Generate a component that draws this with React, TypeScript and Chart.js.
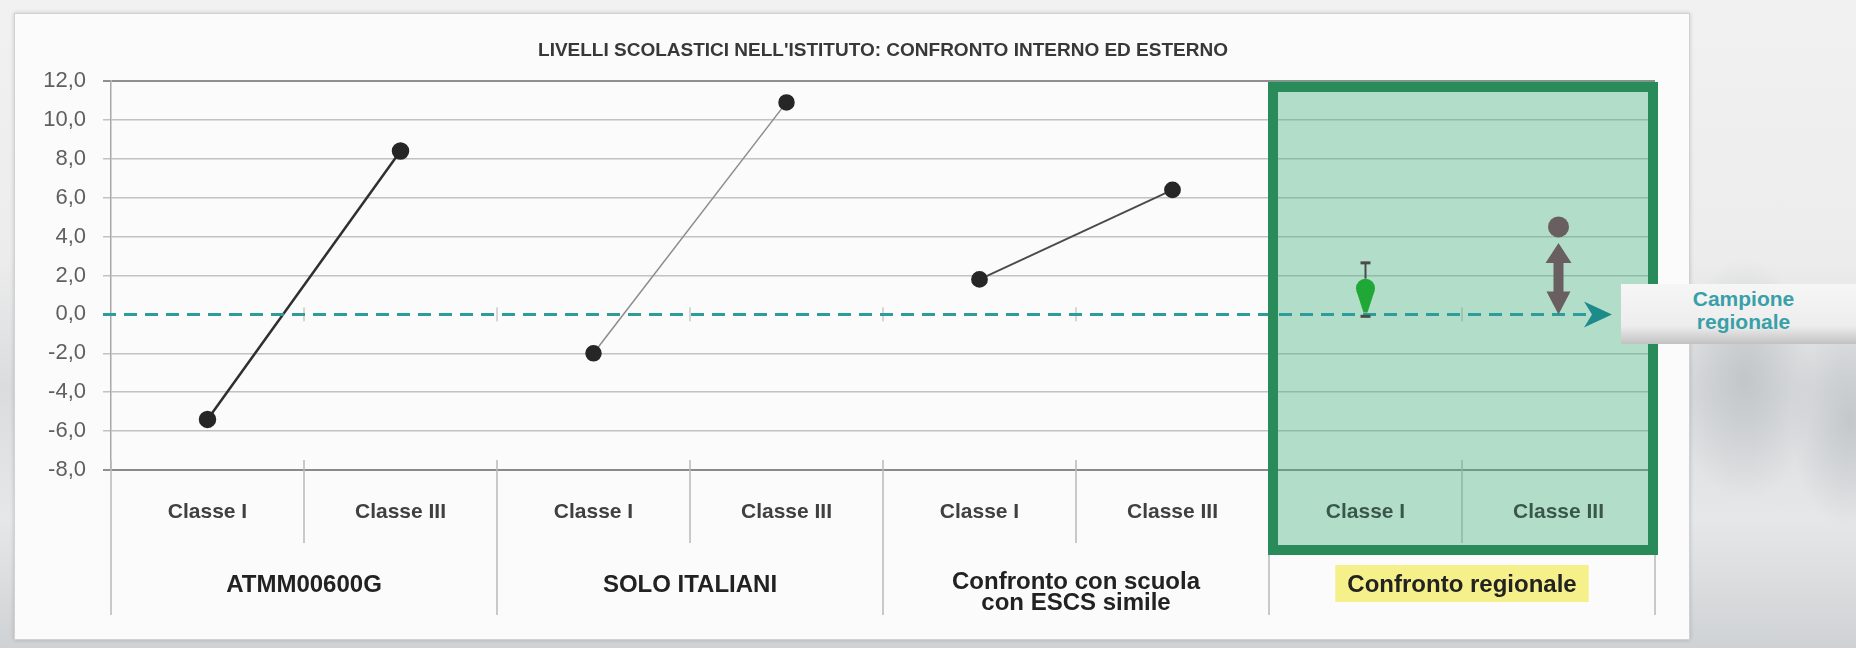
import React, { useEffect, useRef } from "react";
import { Chart, registerables } from "chart.js";

Chart.register(...registerables);

const FONT = "'Liberation Sans', Arial, Helvetica, sans-serif";

const TITLE = "LIVELLI SCOLASTICI NELL'ISTITUTO: CONFRONTO INTERNO ED ESTERNO";
const categories = ["Classe I", "Classe III", "Classe I", "Classe III", "Classe I", "Classe III", "Classe I", "Classe III"];
const groupLabels: (string | string[])[] = ["ATMM00600G", "SOLO ITALIANI", ["Confronto con scuola", "con ESCS simile"], "Confronto regionale"];
const groupSizes = [2, 2, 2, 2];
const highlightGroup = 3;
const yTickValues = [12, 10, 8, 6, 4, 2, 0, -2, -4, -6, -8];

const atmmValues = [-5.4, 8.4, null, null, null, null, null, null];
const soloValues = [null, null, -2.0, 10.9, null, null, null, null];
const escsValues = [null, null, null, null, 1.8, 6.4, null, null];
const regionalValues = [null, null, null, null, null, null, 1.35, 4.5];
const regionalLow = [null, null, null, null, null, null, -0.1, null];
const regionalHigh = [null, null, null, null, null, null, 2.65, null];
const regionalColors = ["", "", "", "", "", "", "#1fa835", "#6a5f60"];
const regionalShapes = ["", "", "", "", "", "", "drop", "arrow"];
const baselineValue = 0;
const baselineLabel = ["Campione", "regionale"];

function boundaryPx(x: any, i: number) {
  const n = categories.length;
  if (i <= 0) return x.left;
  if (i >= n) return x.right;
  return (x.getPixelForTick(i - 1) + x.getPixelForTick(i)) / 2;
}

function groupRanges() {
  const out: { start: number; end: number }[] = [];
  let s = 0;
  for (const g of groupSizes) {
    out.push({ start: s, end: s + g });
    s += g;
  }
  return out;
}

function inHighlight(i: number) {
  const r = groupRanges()[highlightGroup];
  return i >= r.start && i < r.end;
}

const overlayPlugin = {
  id: "overlay",
  beforeDatasetsDraw(chart: any) {
    const { ctx, chartArea: ca, scales } = chart;
    const x = scales.x;
    const y = scales.y;
    const ranges = groupRanges();
    const groupBounds = new Set<number>();
    ranges.forEach((r) => {
      groupBounds.add(r.start);
      groupBounds.add(r.end);
    });
    ctx.save();
    ctx.strokeStyle = "#b8b8b8";
    ctx.lineWidth = 1.5;
    for (let i = 0; i <= categories.length; i++) {
      const px = boundaryPx(x, i);
      const isGroup = groupBounds.has(i);
      ctx.beginPath();
      ctx.moveTo(px, ca.bottom - 10);
      ctx.lineTo(px, ca.bottom + (isGroup ? 145 : 73));
      ctx.stroke();
    }
    const y0 = y.getPixelForValue(baselineValue);
    ctx.strokeStyle = "#b0b0b0";
    ctx.lineWidth = 1;
    for (let i = 1; i < categories.length; i++) {
      const px = boundaryPx(x, i);
      ctx.beginPath();
      ctx.moveTo(px, y0 - 7);
      ctx.lineTo(px, y0 + 7);
      ctx.stroke();
    }
    const r = ranges[highlightGroup];
    const x1 = boundaryPx(x, r.start);
    const x2 = boundaryPx(x, r.end);
    ctx.fillStyle = "rgba(70,178,128,0.40)";
    ctx.fillRect(x1, ca.top, x2 - x1, ca.bottom + 84 - ca.top);
    ctx.restore();
  },
  afterDatasetsDraw(chart: any) {
    const { ctx, chartArea: ca, scales } = chart;
    const x = scales.x;
    const y = scales.y;
    const y0 = y.getPixelForValue(baselineValue);
    ctx.save();
    const tip = ca.right - 43;
    const arrowLen = 28;
    ctx.strokeStyle = "#2e9c9b";
    ctx.lineWidth = 3;
    ctx.setLineDash([13, 8]);
    ctx.beginPath();
    ctx.moveTo(ca.left - 8, y0);
    ctx.lineTo(tip - arrowLen + 4, y0);
    ctx.stroke();
    ctx.setLineDash([]);
    ctx.fillStyle = "#1e8b8b";
    ctx.beginPath();
    ctx.moveTo(tip, y0);
    ctx.lineTo(tip - arrowLen, y0 - 13);
    ctx.lineTo(tip - arrowLen + 8, y0);
    ctx.lineTo(tip - arrowLen, y0 + 13);
    ctx.closePath();
    ctx.fill();

    regionalValues.forEach((v, i) => {
      if (v === null) return;
      const px = x.getPixelForTick(i);
      const py = y.getPixelForValue(v);
      const color = regionalColors[i];
      if (regionalShapes[i] === "drop") {
        const r = 9.5;
        const hi = regionalHigh[i];
        const lo = regionalLow[i];
        ctx.strokeStyle = "#4a4a4a";
        ctx.lineWidth = 2;
        if (hi !== null) {
          const yh = y.getPixelForValue(hi);
          ctx.beginPath();
          ctx.moveTo(px, py - r);
          ctx.lineTo(px, yh);
          ctx.stroke();
          ctx.lineWidth = 3;
          ctx.beginPath();
          ctx.moveTo(px - 5, yh);
          ctx.lineTo(px + 5, yh);
          ctx.stroke();
        }
        if (lo !== null) {
          const yl = y.getPixelForValue(lo);
          ctx.lineWidth = 3;
          ctx.beginPath();
          ctx.moveTo(px - 5, yl);
          ctx.lineTo(px + 5, yl);
          ctx.stroke();
        }
        ctx.fillStyle = color;
        ctx.beginPath();
        ctx.moveTo(px - r * 0.95, py + r * 0.3);
        ctx.lineTo(px + r * 0.95, py + r * 0.3);
        ctx.lineTo(px + 2, y0 - 2);
        ctx.lineTo(px - 2, y0 - 2);
        ctx.closePath();
        ctx.fill();
      } else {
        const r = 10;
        const upTip = py + r + 6;
        const upBase = upTip + 20;
        const downTip = y0;
        const downBase = downTip - 23;
        ctx.fillStyle = color;
        ctx.beginPath();
        ctx.moveTo(px, upTip);
        ctx.lineTo(px + 13, upBase);
        ctx.lineTo(px + 5, upBase);
        ctx.lineTo(px + 5, downBase);
        ctx.lineTo(px + 12, downBase);
        ctx.lineTo(px, downTip);
        ctx.lineTo(px - 12, downBase);
        ctx.lineTo(px - 5, downBase);
        ctx.lineTo(px - 5, upBase);
        ctx.lineTo(px - 13, upBase);
        ctx.closePath();
        ctx.fill();
      }
    });
    ctx.restore();
  },
  afterDraw(chart: any) {
    const { ctx, chartArea: ca, scales } = chart;
    const x = scales.x;
    const ranges = groupRanges();
    ctx.save();
    const r = ranges[highlightGroup];
    const x1 = boundaryPx(x, r.start);
    const x2 = boundaryPx(x, r.end);
    ctx.strokeStyle = "#288b59";
    ctx.lineWidth = 10;
    ctx.strokeRect(x1 + 4, ca.top + 6, x2 - x1 - 6, ca.bottom + 84 - ca.top - 10);

    ctx.textAlign = "center";
    ctx.textBaseline = "middle";
    ctx.font = `bold 24px ${FONT}`;
    groupLabels.forEach((lab, g) => {
      const gr = ranges[g];
      const cx = (boundaryPx(x, gr.start) + boundaryPx(x, gr.end)) / 2;
      const lines = Array.isArray(lab) ? lab : [lab];
      const baseY = lines.length > 1 ? ca.bottom + 112 : ca.bottom + 115;
      if (g === highlightGroup) {
        const w = Math.max(...lines.map((l) => ctx.measureText(l).width));
        ctx.fillStyle = "#f6f08a";
        ctx.fillRect(cx - w / 2 - 12, ca.bottom + 95, w + 24, 37);
      }
      ctx.fillStyle = "#222222";
      lines.forEach((l, k) => ctx.fillText(l, cx, baseY + k * 21));
    });

    ctx.font = `bold 19px ${FONT}`;
    ctx.fillStyle = "#383838";
    ctx.fillText(TITLE, (ca.left + ca.right) / 2, 51);
    ctx.restore();
  },
};

export default function App() {
  const ref = useRef<HTMLCanvasElement>(null);

  useEffect(() => {
    const canvas = ref.current;
    if (!canvas) return;
    const pointColor = "#262626";
    const chart = new Chart(canvas, {
      type: "line",
      data: {
        labels: categories,
        datasets: [
          {
            label: "ATMM00600G",
            data: atmmValues,
            borderColor: "#2f2f2f",
            borderWidth: 2.5,
            pointRadius: 7.5,
            pointBackgroundColor: pointColor,
            pointBorderColor: pointColor,
            spanGaps: false,
          },
          {
            label: "SOLO ITALIANI",
            data: soloValues,
            borderColor: "#8c8c8c",
            borderWidth: 1.5,
            pointRadius: 7.5,
            pointBackgroundColor: pointColor,
            pointBorderColor: pointColor,
            spanGaps: false,
          },
          {
            label: "ESCS",
            data: escsValues,
            borderColor: "#4a4a4a",
            borderWidth: 1.8,
            pointRadius: 7.5,
            pointBackgroundColor: pointColor,
            pointBorderColor: pointColor,
            spanGaps: false,
          },
          {
            label: "Regionale",
            data: regionalValues,
            showLine: false,
            pointRadius: (c: any) => (regionalShapes[c.dataIndex] === "drop" ? 9.5 : 10.5),
            pointBackgroundColor: (c: any) => regionalColors[c.dataIndex] || "#000",
            pointBorderColor: (c: any) => regionalColors[c.dataIndex] || "#000",
            pointBorderWidth: 0,
          },
        ],
      },
      options: {
        responsive: false,
        animation: false,
        layout: { padding: { left: 0, right: 201, top: 81, bottom: 0 } },
        plugins: {
          legend: { display: false },
          tooltip: { enabled: false },
          title: { display: false },
        },
        scales: {
          x: {
            type: "category",
            offset: true,
            grid: { display: false },
            border: { display: true, color: "#8a8a8a", width: 2 },
            ticks: {
              autoSkip: false,
              maxRotation: 0,
              padding: 22,
              color: (c: any) => (inHighlight(c.index) ? "#301a25" : "#404040"),
              font: { family: FONT, size: 21, weight: "bold" },
            },
            afterFit: (s: any) => {
              s.height = 178;
            },
          },
          y: {
            min: yTickValues[yTickValues.length - 1],
            max: yTickValues[0],
            ticks: {
              stepSize: yTickValues[0] - yTickValues[1],
              padding: 17,
              color: "#5f5f5f",
              font: { family: FONT, size: 22 },
              callback: (v: any) => Number(v).toFixed(1).replace(".", ","),
            },
            grid: {
              color: (c: any) =>
                c.tick && c.tick.value === baselineValue
                  ? "rgba(0,0,0,0)"
                  : c.tick && (c.tick.value === yTickValues[0] || c.tick.value === yTickValues[yTickValues.length - 1])
                  ? "#8f8f8f"
                  : "#c2c2c2",
              lineWidth: (c: any) =>
                c.tick && (c.tick.value === yTickValues[0] || c.tick.value === yTickValues[yTickValues.length - 1]) ? 2 : 1.5,
              drawTicks: true,
              tickLength: 8,
            },
            border: { display: true, color: "#a8a8a8", width: 1.5 },
            afterFit: (s: any) => {
              s.width = 111;
            },
          },
        },
      },
      plugins: [overlayPlugin],
    } as any);
    return () => chart.destroy();
  }, []);

  return (
    <div
      style={{
        position: "fixed",
        left: 0,
        top: 0,
        width: 1856,
        height: 648,
        overflow: "hidden",
        background:
          "radial-gradient(ellipse 70px 120px at 1745px 380px, #c2c6c9 0%, rgba(205,208,211,0) 100%), radial-gradient(ellipse 60px 110px at 1850px 420px, #c4c8cb 0%, rgba(205,208,211,0) 100%), linear-gradient(180deg, #f1f1f1 0%, #ececec 40%, #dadcde 60%, #e6e7e8 80%, #cfd2d4 100%)",
      }}
    >
      <div
        style={{
          position: "absolute",
          left: 14,
          top: 13,
          width: 1674,
          height: 625,
          background: "#fbfbfb",
          border: "1px solid #d2d2d2",
          boxShadow: "0 0 4px rgba(0,0,0,0.18)",
        }}
      />
      <canvas ref={ref} width={1856} height={648} style={{ position: "absolute", left: 0, top: 0 }} />
      <div
        style={{
          position: "absolute",
          left: 1621,
          top: 284,
          width: 235,
          height: 60,
          background: "linear-gradient(180deg, #f6f6f6 0%, #ededed 70%, #c2c2c2 100%)",
          fontFamily: FONT,
          fontWeight: "bold",
          fontSize: 21,
          lineHeight: "23px",
          color: "#3aa0a8",
          textAlign: "center",
          paddingTop: 3,
          boxSizing: "border-box",
        }}
      >
        <div style={{ marginLeft: 10 }}>{baselineLabel[0]}</div>
        <div style={{ marginLeft: 10 }}>{baselineLabel[1]}</div>
      </div>
    </div>
  );
}
